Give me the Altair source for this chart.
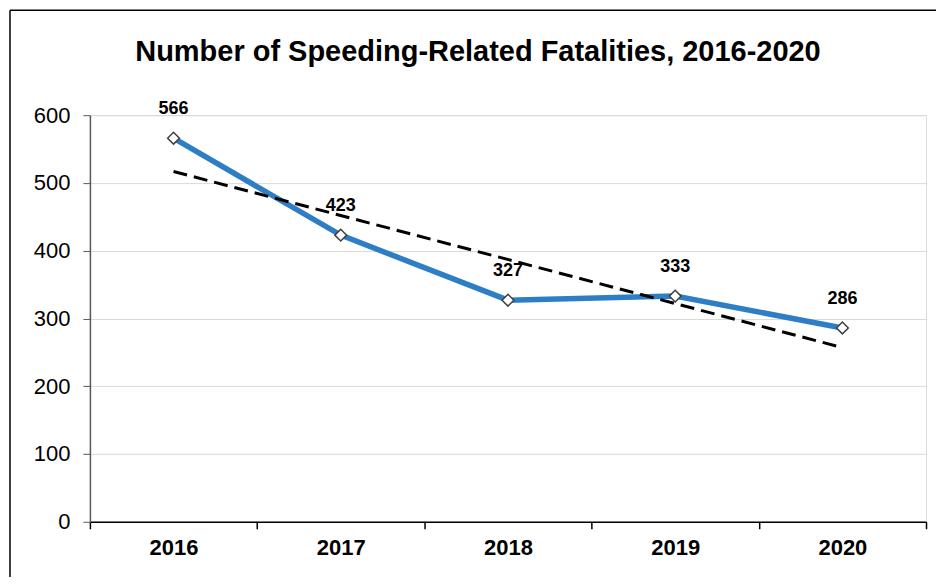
import altair as alt
import pandas as pd

years = [2016, 2017, 2018, 2019, 2020]
fatalities = [566, 423, 327, 333, 286]
y_ticks = [0, 100, 200, 300, 400, 500, 600]
title_text = "Number of Speeding-Related Fatalities, 2016-2020"

df = pd.DataFrame({"Year": years, "Fatalities": fatalities})

W, H = 837, 407
FONT = "Liberation Sans"

x_enc = alt.X(
    "Year:O",
    scale=alt.Scale(type="band", paddingInner=0, paddingOuter=0),
    axis=alt.Axis(
        title=None, labelAngle=0, tickBand="extent", labelFontWeight="bold",
        labelFontSize=22, labelFont=FONT, labelColor="black", tickSize=7,
        tickColor="black", domainColor="black", domainWidth=1.5, tickWidth=1.5,
        labelPadding=9, grid=False,
    ),
)
y_enc = alt.Y(
    "Fatalities:Q",
    scale=alt.Scale(domain=[0, 600]),
    axis=alt.Axis(
        title=None, values=y_ticks, grid=True, gridColor="#d9d9d9", gridWidth=1,
        labelFontSize=22, labelFont=FONT, labelColor="black", tickSize=7,
        tickColor="#595959", domainColor="#595959", domainWidth=1.5,
        labelPadding=13,
    ),
)

base = alt.Chart(df)

line = base.mark_line(color="#2E7EC6", strokeWidth=5.5).encode(x=x_enc, y=y_enc)

trend = base.transform_regression("Year", "Fatalities", method="linear").mark_line(
    color="black", strokeWidth=3, strokeDash=[14, 7]
).encode(x=x_enc, y=y_enc)

points = base.mark_point(
    shape="diamond", filled=True, fill="white", stroke="#404040",
    strokeWidth=1.5, size=140, opacity=1,
).encode(x=x_enc, y=y_enc)

labels = base.mark_text(
    fontWeight="bold", fontSize=18, font=FONT, color="black", dy=-29,
    baseline="middle",
).encode(x=x_enc, y=y_enc, text="Fatalities:Q")

frame_left = alt.Chart(alt.Data(values=[{}])).mark_rule(
    color="black", strokeWidth=1.5
).encode(x=alt.value(-80), y=alt.value(-105), y2=alt.value(H + 100))

frame_top = alt.Chart(alt.Data(values=[{}])).mark_rule(
    color="black", strokeWidth=1.5
).encode(y=alt.value(-105), x=alt.value(-80), x2=alt.value(W + 100))

title = alt.Chart(alt.Data(values=[{}])).mark_text(
    text=title_text, fontWeight="bold", fontSize=29, font=FONT, color="black",
    align="center", baseline="alphabetic",
).encode(x=alt.value(478.5 - 90), y=alt.value(61 - 115))

chart = alt.layer(frame_left, frame_top, line, points, labels, trend, title).properties(
    width=W, height=H,
    autosize=alt.AutoSizeParams(type="none"),
    padding={"left": 82, "top": 107, "right": 10, "bottom": 55},
).configure_view(stroke=None).configure(background="white")

chart.save("out.html", embed_options={"renderer": "svg", "actions": False})
